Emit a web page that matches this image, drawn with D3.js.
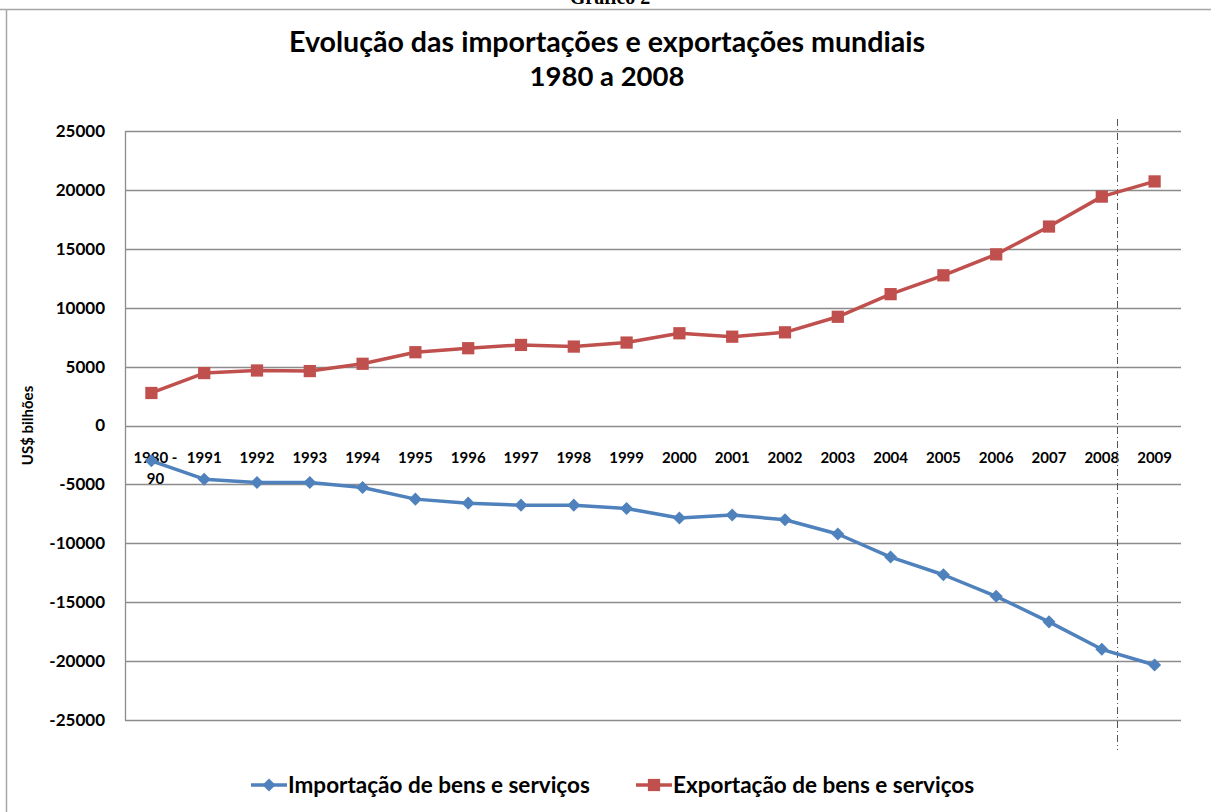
<!DOCTYPE html>
<html>
<head>
<meta charset="utf-8">
<script src="https://cdn.jsdelivr.net/npm/d3@7"></script>
<style>
  html, body { margin: 0; padding: 0; background: #fff; }
  svg { display: block; }
  text { font-family: Lato, "Open Sans", sans-serif; font-weight: bold; fill: #000; }
</style>
</head>
<body>
<div id="chart"></div>
<script>
const categories = ["1980 - 90", "1991", "1992", "1993", "1994", "1995", "1996", "1997", "1998", "1999",
                    "2000", "2001", "2002", "2003", "2004", "2005", "2006", "2007", "2008", "2009"];

const importacao = [-3000, -4560, -4840, -4840, -5260, -6250, -6590, -6760, -6760, -7040,
                    -7850, -7600, -8000, -9210, -11170, -12670, -14500, -16670, -19000, -20330];

const exportacao = [2760, 4450, 4670, 4620, 5240, 6220, 6560, 6840, 6700, 7040,
                    7830, 7540, 7910, 9230, 11150, 12750, 14530, 16890, 19430, 20720];

const y_ticks = [25000, 20000, 15000, 10000, 5000, 0, -5000, -10000, -15000, -20000, -25000];

const title_lines = ["Evolução das importações e exportações mundiais", "1980 a 2008"];

const series = [
  {name: "Importação de bens e serviços", values: importacao, color: "#4F81BD", symbol: d3.symbolSquare, size: 85, rotate: 45},
  {name: "Exportação de bens e serviços", values: exportacao, color: "#C0504D", symbol: d3.symbolSquare, size: 150, rotate: 0}
];

const width = 1211, height = 812;
const margin = {left: 125, right: 30, top: 131, bottom: 92};

const svg = d3.select("#chart").append("svg")
    .attr("width", width)
    .attr("height", height);

// page frame + caption cut at the top
svg.append("text")
    .attr("x", 610).attr("y", 4)
    .attr("text-anchor", "middle")
    .style("font-family", "'Liberation Serif', serif")
    .style("font-size", "20px")
    .text("Gráfico 2");
svg.append("line")
    .attr("x1", 0).attr("x2", width).attr("y1", 9.5).attr("y2", 9.5)
    .attr("stroke", "#a6a6a6").attr("stroke-width", 1.5);
svg.append("line")
    .attr("x1", 6.5).attr("x2", 6.5).attr("y1", 9).attr("y2", height)
    .attr("stroke", "#a6a6a6").attr("stroke-width", 1.5);

const x = d3.scalePoint()
    .domain(categories)
    .range([margin.left, width - margin.right])
    .padding(0.5);

const y = d3.scaleLinear()
    .domain([-25000, 25000])
    .range([height - margin.bottom, margin.top]);

// title
svg.append("g").selectAll("text")
  .data(title_lines)
  .join("text")
    .attr("x", 607)
    .attr("y", (d, i) => 52 + i * 34)
    .attr("text-anchor", "middle")
    .style("font-size", (d, i) => i === 0 ? "28.6px" : "27.5px")
    .text(d => d);

// grid lines
svg.append("g")
    .selectAll("line")
    .data(y_ticks)
    .join("line")
      .attr("x1", margin.left)
      .attr("x2", width - margin.right)
      .attr("y1", d => Math.round(y(d)) + 0.5)
      .attr("y2", d => Math.round(y(d)) + 0.5)
      .attr("stroke", "#8c8c8c")
      .attr("stroke-width", 1.3);

// y axis
const y_axis = svg.append("g")
    .attr("transform", `translate(${margin.left},0)`)
    .call(d3.axisLeft(y).tickValues(y_ticks).tickSize(0).tickPadding(20)
      .tickFormat(d => String(d)));
y_axis.select(".domain").attr("stroke", "#8c8c8c").attr("stroke-width", 1.3);
y_axis.selectAll("text")
    .style("font-family", "Lato, sans-serif")
    .style("font-weight", "bold")
    .style("font-size", "17px");

svg.append("text")
    .attr("transform", `translate(33,${y(0)}) rotate(-90)`)
    .attr("text-anchor", "middle")
    .style("font-size", "15px")
    .text("US$ bilhões");

// x labels (sit just under the zero line)
svg.append("g")
    .selectAll("text")
    .data(categories)
    .join("text")
      .attr("x", d => x(d))
      .attr("y", y(0) + 37)
      .attr("text-anchor", "middle")
      .style("font-size", "15px")
      .each(function(d) {
        const parts = d === "1980 - 90" ? ["1980 -", "90"] : [d];
        d3.select(this).selectAll("tspan")
          .data(parts)
          .join("tspan")
            .attr("x", x(d) + (parts.length > 1 ? 4 : 0))
            .attr("dy", (p, i) => i === 0 ? 0 : 21)
            .text(p => p);
      });

// dash-dot marker between 2008 and 2009
const x_mark = x("2008") + x.step() * 0.28;
svg.append("line")
    .attr("x1", Math.round(x_mark) + 0.5).attr("x2", Math.round(x_mark) + 0.5)
    .attr("y1", margin.top - 12).attr("y2", height - margin.bottom + 30)
    .attr("stroke", "#555")
    .attr("stroke-width", 1)
    .attr("stroke-dasharray", "7,3,1,3");

// series
const line = d3.line()
    .x((d, i) => x(categories[i]))
    .y(d => y(d));

for (const s of series) {
  svg.append("path")
      .datum(s.values)
      .attr("fill", "none")
      .attr("stroke", s.color)
      .attr("stroke-width", 3.5)
      .attr("stroke-linejoin", "round")
      .attr("d", line);
  svg.append("g")
    .selectAll("path")
    .data(s.values)
    .join("path")
      .attr("transform", (d, i) => `translate(${x(categories[i])},${y(d)}) rotate(${s.rotate})`)
      .attr("d", d3.symbol().type(s.symbol).size(s.size))
      .attr("fill", s.color);
}

// legend
const legend_x = [251, 636];
const legend = svg.append("g")
    .selectAll("g")
    .data(series)
    .join("g")
      .attr("transform", (d, i) => `translate(${legend_x[i]},785)`);
legend.append("line")
    .attr("x1", 0).attr("x2", 36)
    .attr("stroke", d => d.color)
    .attr("stroke-width", 3.5);
legend.append("path")
    .attr("transform", d => `translate(18,0) rotate(${d.rotate})`)
    .attr("d", d => d3.symbol().type(d.symbol).size(d.size)())
    .attr("fill", d => d.color);
legend.append("text")
    .attr("x", 37)
    .attr("y", 8)
    .style("font-size", "22.5px")
    .text(d => d.name);
</script>
</body>
</html>
